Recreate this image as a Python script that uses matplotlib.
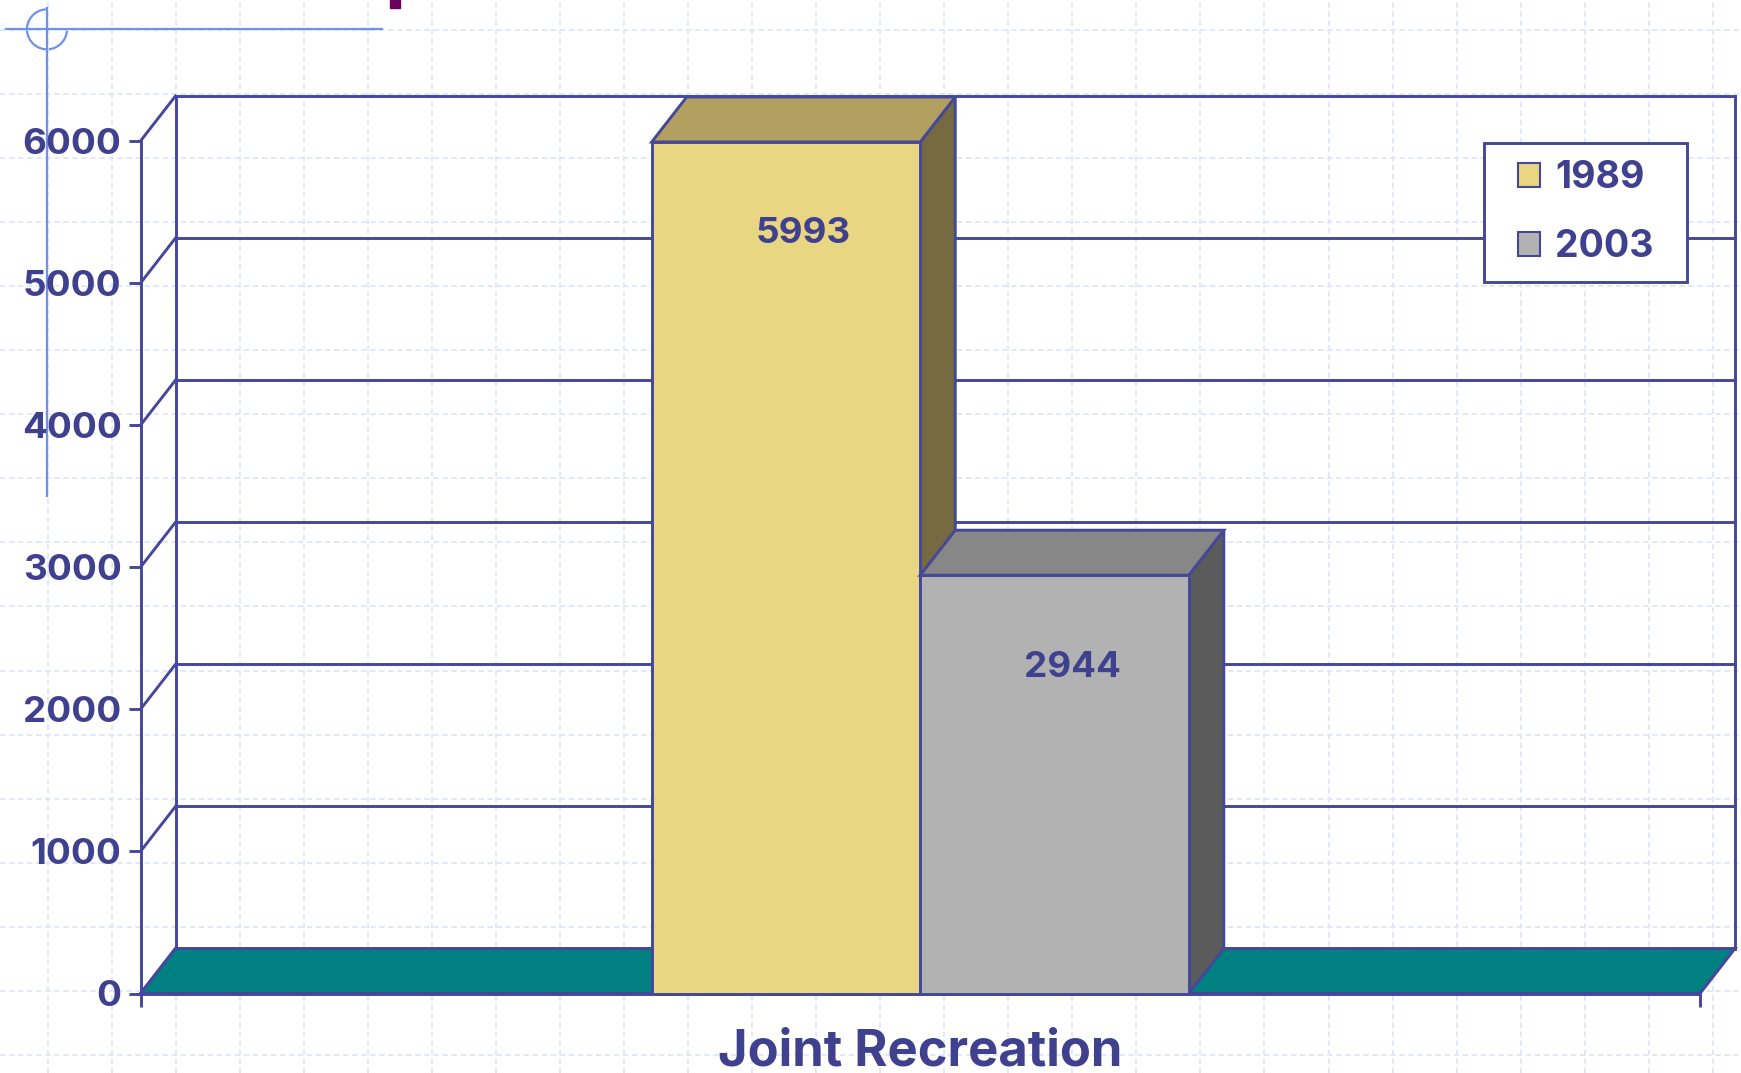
import numpy as np
import matplotlib
matplotlib.use('Agg')
import matplotlib.pyplot as plt
from matplotlib.patches import Polygon, Patch, Arc, Rectangle

# ---- data ----
categories = ['Joint Recreation']
series_names = ['1989', '2003']
values = [5993, 2944]
y_ticks = [0, 1000, 2000, 3000, 4000, 5000, 6000]

# ---- styles ----
front_colors = ['#E9D683', '#B2B2B2']
top_colors = ['#B1A05F', '#878787']
side_colors = ['#766A40', '#5B5B5B']
FLOOR = '#008080'
NAVY = '#45479A'
TEXT = '#3F418F'

W, H = 1741, 1073
plt.rcParams['font.family'] = ['Inter', 'DejaVu Sans']
fig = plt.figure(figsize=(W / 100, H / 100), dpi=100)

# ---- decorative background ----
bg = fig.add_axes([0, 0, 1, 1], zorder=0)
bg.set_xlim(0, W)
bg.set_ylim(H, 0)
bg.axis('off')
for x in np.arange(47.5, W, 64.05):
    bg.axvline(x, color='#DFE6FA', lw=1.3, ls=(0, (3, 2)))
for y in np.arange(30, H, 64.05):
    bg.axhline(y, color='#DFE6FA', lw=1.3, ls=(0, (3, 2)))
cc = '#7090F0'
bg.plot([6, 382], [29.3, 29.3], color=cc, lw=1.6)
bg.plot([47, 47], [8, 496], color=cc, lw=1.6)
bg.add_patch(Arc((47, 29.3), 40, 40, theta1=0, theta2=270, color=cc, lw=1.6))
bg.add_patch(Rectangle((390, 0), 10, 7.5, color='#6B0060'))

# ---- main axes (front frame) ----
L, R, B, T = 140.5, 1700, 993.5, 141
ax = fig.add_axes([L / W, 1 - B / H, (R - L) / W, (B - T) / H], zorder=1)
ax.patch.set_alpha(0)
ax.set_xlim(0, 1)
ax.set_ylim(0, max(y_ticks))

# depth offset (pixels) converted into data units
p0 = ax.transData.transform((0, 0))
ddx, ddy = ax.transData.inverted().transform(p0 + np.array([35.0, 45.0]))
ymax = max(y_ticks)
lw = 2.1

# back wall grid lines and edges
for v in y_ticks[1:]:
    ax.plot([ddx, 1 + ddx], [v + ddy, v + ddy], color=NAVY, lw=lw, clip_on=False, zorder=1)
ax.plot([ddx, ddx], [ddy, ymax + ddy], color=NAVY, lw=lw, clip_on=False, zorder=1)
ax.plot([1 + ddx, 1 + ddx], [ddy, ymax + ddy], color=NAVY, lw=lw, clip_on=False, zorder=1)
# left wall diagonals
for v in y_ticks:
    ax.plot([0, ddx], [v, v + ddy], color=NAVY, lw=lw, clip_on=False, zorder=1)

# floor
ax.add_patch(Polygon([(0, 0), (1, 0), (1 + ddx, ddy), (ddx, ddy)], closed=True,
                     facecolor=FLOOR, edgecolor=NAVY, lw=lw, clip_on=False, zorder=2))

# bars
bar_w = 0.1722
center = 0.5
n = len(values)
for i, v in enumerate(values):
    x0 = center - n * bar_w / 2 + i * bar_w
    x1 = x0 + bar_w
    z = 3 + 3 * i
    ax.add_patch(Polygon([(x1, 0), (x1 + ddx, ddy), (x1 + ddx, v + ddy), (x1, v)], closed=True,
                         facecolor=side_colors[i], edgecolor=NAVY, lw=lw, clip_on=False, zorder=z))
    ax.add_patch(Polygon([(x0, v), (x1, v), (x1 + ddx, v + ddy), (x0 + ddx, v + ddy)], closed=True,
                         facecolor=top_colors[i], edgecolor=NAVY, lw=lw, clip_on=False, zorder=z))
    ax.bar(x0 + bar_w / 2, v, width=bar_w, color=front_colors[i], edgecolor=NAVY, lw=lw,
           zorder=z + 1, clip_on=False)
    ax.annotate(str(v), (x0 + bar_w / 2, v), xytext=(17.5, -92), textcoords='offset pixels',
                ha='center', va='center', fontsize=26.5, fontweight='bold', color=TEXT, zorder=20)

# axes, ticks
for s in ['top', 'right']:
    ax.spines[s].set_visible(False)
for s in ['left', 'bottom']:
    ax.spines[s].set_color(NAVY)
    ax.spines[s].set_linewidth(lw)
ax.set_yticks(y_ticks, labels=[str(t) for t in y_ticks])
ax.tick_params(axis='y', length=8.6, width=lw, color=NAVY, pad=5, labelsize=26.5, labelcolor=TEXT)
for lbl in ax.get_yticklabels():
    lbl.set_fontweight('bold')
ax.set_xticks([0.5], labels=categories)
ax.set_xticks([0, 1], minor=True)
ax.tick_params(axis='x', which='major', length=0, pad=25, labelsize=36.5, labelcolor=TEXT)
ax.tick_params(axis='x', which='minor', length=9.4, width=lw, color=NAVY)
for lbl in ax.get_xticklabels():
    lbl.set_fontweight('bold')

# legend: white framed box in figure pixels, entries centred inside it
bx0, by0, bx1, by1 = 1484, 143, 1687, 282
fig.add_artist(Rectangle((bx0 / W, 1 - by1 / H), (bx1 - bx0) / W, (by1 - by0) / H,
                         transform=fig.transFigure, facecolor='white', edgecolor=NAVY,
                         lw=lw, zorder=2))
handles = [Patch(facecolor=c, edgecolor=NAVY, lw=1.5) for c in front_colors]
leg = fig.legend(handles, series_names, loc='center',
                 bbox_to_anchor=((bx0 + bx1) / 2 / W, 1 - (by0 + by1) / 2 / H),
                 bbox_transform=fig.transFigure, borderaxespad=0, borderpad=0, frameon=False,
                 prop={'weight': 'bold', 'size': 27},
                 handlelength=0.6, handleheight=0.6, handletextpad=0.4, labelspacing=0.88,
                 labelcolor=TEXT)
leg.set_zorder(3)

fig.savefig('out.png', dpi=100)
